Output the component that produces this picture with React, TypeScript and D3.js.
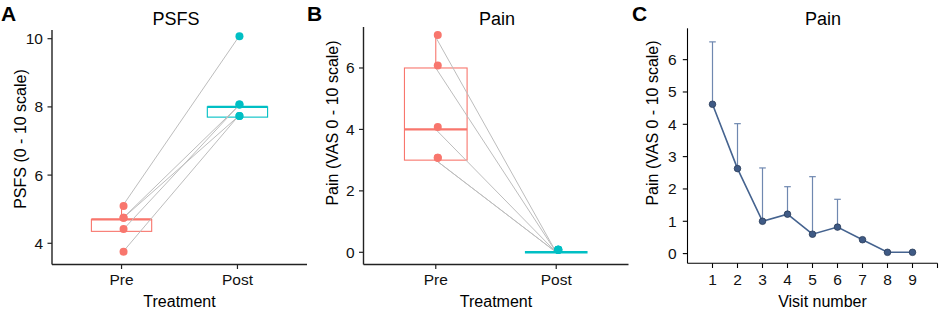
import React from "react";
import * as d3 from "d3";

// ---------- data ----------
const groups = ["Pre", "Post"];

// Panel A: PSFS (paired subjects)
const psfsPre = [5.05, 4.7, 4.7, 4.35, 3.7];
const psfsPost = [10.0, 8.0, 7.7, 8.0, 7.7];
const psfsPrePts = [5.09, 4.75, 4.75, 4.42, 3.75];
const psfsPostPts = [10.07, 8.07, 7.73, 8.07, 7.73];
const psfsTicks = [4, 6, 8, 10];

// Panel B: Pain (paired subjects)
const painPre = [7, 6, 4, 3, 3];
const painPost = [0, 0, 0, 0, 0];
const painPrePts = [7.07, 6.08, 4.08, 3.08, 3.08];
const painPostPts = [0.08, 0.08, 0.08, 0.08, 0.08];
const painTicks = [0, 2, 4, 6];

// Panel C: Pain by visit (mean + upper error)
const visits = [1, 2, 3, 4, 5, 6, 7, 8, 9];
const visitMean = [4.62, 2.63, 1.0, 1.22, 0.6, 0.82, 0.43, 0.04, 0.04];
const visitUpper = [6.55, 4.02, 2.65, 2.07, 2.38, 1.68, null, null, null];
const visitYTicks = [0, 1, 2, 3, 4, 5, 6];
const visitXTicks = [1, 2, 3, 4, 5, 6, 7, 8, 9, 10];

const COL_PRE = "#F8766D";
const COL_POST = "#00BFC4";
const FONT = "'Liberation Sans', Arial, Helvetica, sans-serif";

function boxStats(vals: number[]) {
  const s = [...vals].sort(d3.ascending);
  const q1 = d3.quantile(s, 0.25)!;
  const med = d3.quantile(s, 0.5)!;
  const q3 = d3.quantile(s, 0.75)!;
  const iqr = q3 - q1;
  const lo = d3.min(s.filter((v) => v >= q1 - 1.5 * iqr))!;
  const hi = d3.max(s.filter((v) => v <= q3 + 1.5 * iqr))!;
  return { q1, med, q3, lo, hi };
}

type PairedProps = {
  x0: number;
  x1: number;
  yTop: number;
  yBot: number;
  yDomain: [number, number];
  ticks: number[];
  pre: number[];
  post: number[];
  prePts: number[];
  postPts: number[];
  title: string;
  titleX: number;
  yLabel: string;
  yLabelX: number;
  yLabelY: number;
  letter: string;
  letterX: number;
};

function PairedPanel(p: PairedProps) {
  const x = d3.scalePoint<string>().domain(groups).range([p.x0, p.x1]).padding(0.6);
  const y = d3.scaleLinear().domain(p.yDomain).range([p.yBot, p.yTop]);
  const step = x.step();
  const boxW = step * 0.52;
  const sets = [
    { g: "Pre", vals: p.pre, pts: p.prePts, col: COL_PRE },
    { g: "Post", vals: p.post, pts: p.postPts, col: COL_POST },
  ];
  const axisCol = "#222";
  return (
    <g>
      <text x={p.letterX} y={20.7} fontSize={21} fontWeight="bold" fontFamily={FONT}>
        {p.letter}
      </text>
      <text x={p.titleX} y={25} fontSize={18} textAnchor="middle" fontFamily={FONT}>
        {p.title}
      </text>
      {/* boxes */}
      {sets.map((s) => {
        const b = boxStats(s.vals);
        const cx = x(s.g)!;
        return (
          <g key={s.g} stroke={s.col} fill="none">
            <line x1={cx} x2={cx} y1={y(b.q3)} y2={y(b.hi)} strokeWidth={1.1} />
            <line x1={cx} x2={cx} y1={y(b.q1)} y2={y(b.lo)} strokeWidth={1.1} />
            <rect
              x={cx - boxW / 2}
              width={boxW}
              y={y(b.q3)}
              height={Math.max(0, y(b.q1) - y(b.q3))}
              fill="white"
              strokeWidth={1.1}
            />
            <line x1={cx - boxW / 2} x2={cx + boxW / 2} y1={y(b.med)} y2={y(b.med)} strokeWidth={2.4} />
          </g>
        );
      })}
      {/* paired lines */}
      {p.pre.map((v, i) => (
        <line
          key={"l" + i}
          x1={x("Pre")!}
          y1={y(v)}
          x2={x("Post")!}
          y2={y(p.post[i])}
          stroke="#bdbdbd"
          strokeWidth={1}
        />
      ))}
      {/* points */}
      {sets.map((s) =>
        s.pts.map((v, i) => (
          <circle key={s.g + i} cx={x(s.g)! + 2} cy={y(v)} r={4} fill={s.col} />
        ))
      )}
      {/* axes */}
      <line x1={p.x0} x2={p.x0} y1={p.yTop} y2={p.yBot} stroke={axisCol} strokeWidth={1.4} />
      <line x1={p.x0} x2={p.x1} y1={p.yBot} y2={p.yBot} stroke={axisCol} strokeWidth={1.4} />
      {p.ticks.map((t) => (
        <g key={"yt" + t}>
          <line x1={p.x0 - 4.5} x2={p.x0} y1={y(t)} y2={y(t)} stroke={axisCol} strokeWidth={1.2} />
          <text x={p.x0 - 9} y={y(t) + 5.5} fontSize={15.5} textAnchor="end" fontFamily={FONT} fill="#111">
            {t}
          </text>
        </g>
      ))}
      {groups.map((g) => (
        <g key={"xt" + g}>
          <line x1={x(g)!} x2={x(g)!} y1={p.yBot} y2={p.yBot + 4.5} stroke={axisCol} strokeWidth={1.2} />
          <text x={x(g)!} y={285} fontSize={15.5} textAnchor="middle" fontFamily={FONT} fill="#111">
            {g}
          </text>
        </g>
      ))}
      <text x={(p.x0 + p.x1) / 2} y={306.7} fontSize={16} textAnchor="middle" fontFamily={FONT}>
        Treatment
      </text>
      <text
        transform={`translate(${p.yLabelX},${p.yLabelY}) rotate(-90)`}
        fontSize={16}
        textAnchor="middle"
        fontFamily={FONT}
      >
        {p.yLabel}
      </text>
    </g>
  );
}

function VisitPanel() {
  const x0 = 687.5,
    x1 = 937.5,
    yTop = 28.3,
    yBot = 263.3;
  const x = d3.scaleLinear().domain([0, 10]).range([x0, x1]);
  const y = d3.scaleLinear().domain([-0.3, 6.97]).range([yBot, yTop]);
  const lineCol = "#45638f";
  const line = d3
    .line<number>()
    .x((_, i) => x(visits[i]))
    .y((d) => y(d));
  return (
    <g>
      <text x={632} y={20.7} fontSize={21} fontWeight="bold" fontFamily={FONT}>
        C
      </text>
      <text x={823} y={25} fontSize={18} textAnchor="middle" fontFamily={FONT}>
        Pain
      </text>
      {visits.map((v, i) =>
        visitUpper[i] == null ? null : (
          <g key={"e" + v} stroke="#6f88b0" strokeWidth={1.2}>
            <line x1={x(v)} x2={x(v)} y1={y(visitMean[i])} y2={y(visitUpper[i] as number)} />
            <line x1={x(v) - 3.3} x2={x(v) + 3.3} y1={y(visitUpper[i] as number)} y2={y(visitUpper[i] as number)} />
          </g>
        )
      )}
      <path d={line(visitMean) || ""} fill="none" stroke={lineCol} strokeWidth={1.6} />
      {visitMean.map((m, i) => (
        <circle key={"p" + i} cx={x(visits[i])} cy={y(m)} r={3.3} fill="#3f5a85" stroke="#2a3b58" strokeWidth={0.8} />
      ))}
      <line x1={x0} x2={x0} y1={yTop} y2={yBot} stroke="#000" strokeWidth={1.1} />
      <line x1={x0} x2={x1} y1={yBot} y2={yBot} stroke="#000" strokeWidth={1.1} />
      {visitYTicks.map((t) => (
        <g key={"cy" + t}>
          <line x1={x0 - 4.7} x2={x0} y1={y(t)} y2={y(t)} stroke="#000" strokeWidth={1.1} />
          <text x={x0 - 11} y={y(t) + 5.5} fontSize={15.5} textAnchor="end" fontFamily={FONT} fill="#111">
            {t}
          </text>
        </g>
      ))}
      {visitXTicks.map((t) => (
        <g key={"cx" + t}>
          <line x1={x(t)} x2={x(t)} y1={yBot} y2={yBot + 4.7} stroke="#000" strokeWidth={1.1} />
          {visits.includes(t) ? (
            <text x={x(t)} y={285} fontSize={15.5} textAnchor="middle" fontFamily={FONT} fill="#111">
              {t}
            </text>
          ) : null}
        </g>
      ))}
      <text x={822.5} y={306.7} fontSize={16} textAnchor="middle" fontFamily={FONT}>
        Visit number
      </text>
      <text transform={`translate(658,123) rotate(-90)`} fontSize={16} textAnchor="middle" fontFamily={FONT}>
        Pain (VAS 0 - 10 scale)
      </text>
    </g>
  );
}

export default function App() {
  return (
    <svg
      width={942}
      height={319}
      viewBox="0 0 942 319"
      style={{ position: "absolute", left: 0, top: 0, background: "white" }}
    >
      <rect width={942} height={319} fill="white" />
      <PairedPanel
        x0={52}
        x1={307}
        yTop={30}
        yBot={264.5}
        yDomain={[3.378, 10.255]}
        ticks={psfsTicks}
        pre={psfsPre}
        post={psfsPost}
        prePts={psfsPrePts}
        postPts={psfsPostPts}
        title="PSFS"
        titleX={176}
        yLabel="PSFS (0 - 10 scale)"
        yLabelX={26}
        yLabelY={139}
        letter="A"
        letterX={1}
      />
      <PairedPanel
        x0={363.5}
        x1={628.5}
        yTop={27}
        yBot={264.5}
        yDomain={[-0.397, 7.334]}
        ticks={painTicks}
        pre={painPre}
        post={painPost}
        prePts={painPrePts}
        postPts={painPostPts}
        title="Pain"
        titleX={497}
        yLabel="Pain (VAS 0 - 10 scale)"
        yLabelX={338}
        yLabelY={123}
        letter="B"
        letterX={307}
      />
      <VisitPanel />
    </svg>
  );
}
